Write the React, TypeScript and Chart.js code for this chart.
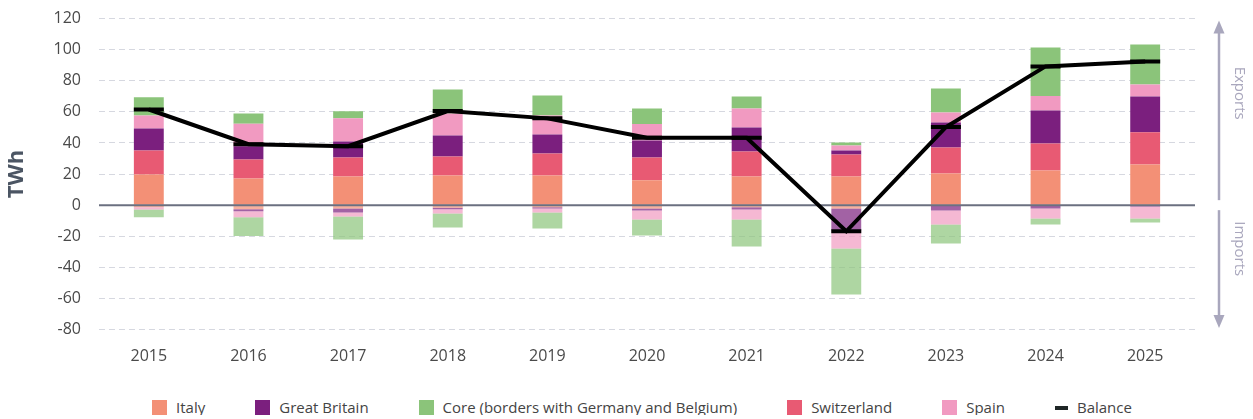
import React, { useEffect, useRef } from "react";
import { Chart, registerables } from "chart.js";

Chart.register(...registerables);

if (typeof document !== "undefined") {
  document.documentElement.style.overflow = "hidden";
  document.body.style.overflow = "hidden";
}

const years = ["2015", "2016", "2017", "2018", "2019", "2020", "2021", "2022", "2023", "2024", "2025"];

// Exports (positive)
const italyExp = [19.7, 17.2, 18.5, 19.1, 19.1, 16.0, 18.5, 18.5, 20.4, 22.3, 26.2];
const switzerlandExp = [15.5, 12.2, 12.2, 12.2, 14.1, 14.7, 16.0, 14.1, 16.7, 17.4, 20.6];
const gbExp = [14.1, 8.5, 10.3, 13.5, 12.3, 10.9, 15.5, 2.6, 16.1, 21.2, 23.1];
const spainExp = [8.3, 14.5, 14.8, 14.2, 12.2, 10.5, 12.2, 3.2, 6.4, 9.2, 7.7];
const coreExp = [11.7, 6.5, 4.5, 15.4, 12.8, 10.1, 7.7, 1.9, 15.4, 31.3, 25.7];

// Imports (negative)
const italyImp = [-1.3, -2.6, -2.1, -1.7, -1.3, -2.1, -1.3, -2.1, -0.3, -0.3, -0.3];
const gbImp = [0, -1.3, -2.6, -0.9, -0.8, -1.3, -1.5, -14.2, -3.1, -1.8, -0.5];
const spainImp = [-1.5, -3.9, -2.6, -2.7, -2.6, -5.8, -6.4, -11.5, -9.0, -6.5, -7.8];
const coreImp = [-4.9, -12.0, -14.8, -9.0, -10.3, -10.3, -17.4, -29.6, -12.2, -3.8, -2.5];

// Net balance
const balance = [61.5, 39.2, 37.9, 60.5, 55.8, 43.3, 43.3, -16.8, 50.2, 89.2, 92.4];

const yTicks = { min: -80, max: 120, step: 20 };

const COLORS = {
  italy: [243, 144, 118],
  gb: [123, 31, 126],
  core: [139, 196, 122],
  switzerland: [232, 90, 115],
  spain: [241, 154, 193],
};
const rgb = (c: number[], a = 1) => `rgba(${c[0]},${c[1]},${c[2]},${a})`;

const legendItems = [
  { label: "Italy", color: rgb(COLORS.italy) },
  { label: "Great Britain", color: rgb(COLORS.gb) },
  { label: "Core (borders with Germany and Belgium)", color: rgb(COLORS.core) },
  { label: "Switzerland", color: rgb(COLORS.switzerland) },
  { label: "Spain", color: rgb(COLORS.spain) },
  { label: "Balance", color: "#1f2626", line: true },
];

const FONT = "'Open Sans', 'Noto Sans', sans-serif";
const SIDE = "#a9a7bd";

const sidePlugin = {
  id: "sideAnnotations",
  beforeDatasetDraw(chart: any, args: any) {
    if (chart.data.datasets[args.index].type !== "line") return;
    const { ctx, chartArea, scales } = chart;
    const y0 = scales.y.getPixelForValue(0);
    ctx.save();
    ctx.strokeStyle = "#6b7080";
    ctx.lineWidth = 2;
    ctx.beginPath();
    ctx.moveTo(chartArea.left, y0);
    ctx.lineTo(chartArea.right, y0);
    ctx.stroke();
    ctx.restore();
  },
  afterDraw(chart: any) {
    const { ctx, chartArea, scales } = chart;
    const y = scales.y;
    const y0 = y.getPixelForValue(0);
    const ax = chartArea.right + 24;
    const tx = chartArea.right + 44;
    ctx.save();
    ctx.strokeStyle = SIDE;
    ctx.fillStyle = SIDE;
    ctx.lineWidth = 2.5;
    const headH = 13;
    const headW = 5.5;
    // exports arrow (up)
    const topTip = chartArea.top + 2;
    ctx.beginPath();
    ctx.moveTo(ax, y0 - 5);
    ctx.lineTo(ax, topTip + headH - 1);
    ctx.stroke();
    ctx.beginPath();
    ctx.moveTo(ax, topTip);
    ctx.lineTo(ax - headW, topTip + headH);
    ctx.lineTo(ax + headW, topTip + headH);
    ctx.closePath();
    ctx.fill();
    // imports arrow (down)
    const botTip = chartArea.bottom - 1.5;
    ctx.beginPath();
    ctx.moveTo(ax, y0 + 5);
    ctx.lineTo(ax, botTip - headH + 1);
    ctx.stroke();
    ctx.beginPath();
    ctx.moveTo(ax, botTip);
    ctx.lineTo(ax - headW, botTip - headH);
    ctx.lineTo(ax + headW, botTip - headH);
    ctx.closePath();
    ctx.fill();
    // texts
    ctx.font = `15px ${FONT}`;
    ctx.textAlign = "center";
    ctx.textBaseline = "middle";
    const drawRot = (text: string, cy: number) => {
      ctx.save();
      ctx.translate(tx, cy);
      ctx.rotate(Math.PI / 2);
      ctx.fillText(text, 0, 0);
      ctx.restore();
    };
    drawRot("Exports", y.getPixelForValue(72));
    drawRot("Imports", y.getPixelForValue(-28));
    ctx.restore();
  },
};

export default function App() {
  const canvasRef = useRef<HTMLCanvasElement | null>(null);

  useEffect(() => {
    if (!canvasRef.current) return;
    const barDs = (label: string, data: number[], c: number[], a = 1) => ({
      type: "bar" as const,
      label,
      data,
      backgroundColor: rgb(c, a),
      borderWidth: 0,
      stack: "flows",
      barPercentage: 0.3,
      categoryPercentage: 1,
    });
    const chart = new Chart(canvasRef.current, {
      type: "bar",
      data: {
        labels: years,
        datasets: [
          barDs("Italy", italyExp, COLORS.italy),
          barDs("Switzerland", switzerlandExp, COLORS.switzerland),
          barDs("Great Britain", gbExp, COLORS.gb),
          barDs("Spain", spainExp, COLORS.spain),
          barDs("Core (borders with Germany and Belgium)", coreExp, COLORS.core),
          barDs("Italy imports", italyImp, COLORS.italy, 0.7),
          barDs("Great Britain imports", gbImp, COLORS.gb, 0.7),
          barDs("Spain imports", spainImp, COLORS.spain, 0.7),
          barDs("Core imports", coreImp, COLORS.core, 0.7),
          {
            type: "line" as const,
            label: "Balance",
            data: balance,
            stack: "balance",
            order: -1,
            borderColor: "#000",
            borderWidth: 4,
            tension: 0,
            pointStyle: "line",
            pointRadius: 15,
            pointHoverRadius: 15,
            pointBorderWidth: 4,
            pointBorderColor: "#000",
            pointBackgroundColor: "#000",
          } as any,
        ],
      },
      options: {
        animation: false,
        responsive: true,
        maintainAspectRatio: false,
        layout: { autoPadding: false, padding: { top: 10.5, right: 50, bottom: 0, left: 0 } },
        plugins: {
          legend: { display: false },
          tooltip: { enabled: false },
        },
        scales: {
          x: {
            stacked: true,
            grid: { display: false, drawTicks: false },
            border: { display: false },
            ticks: { color: "#4a4a4a", font: { family: FONT, size: 16 }, padding: 17 },
            afterFit: (scale: any) => {
              scale.height = 36.4;
            },
          },
          y: {
            stacked: true,
            min: yTicks.min,
            max: yTicks.max,
            afterFit: (scale: any) => {
              scale.width = 91;
              scale.paddingTop = 0;
              scale.paddingBottom = 0;
            },
            ticks: {
              stepSize: yTicks.step,
              color: "#4a4a4a",
              font: { family: FONT, size: 16 },
              padding: 18,
            },
            grid: {
              drawTicks: false,
              lineWidth: 1,
              color: (c: any) => (c.tick && c.tick.value === 0 ? "rgba(0,0,0,0)" : "#d6d8e0"),
            },
            border: { display: false, dash: [6, 4] },
            title: {
              display: true,
              text: "TWh",
              color: "#4b5563",
              font: { family: FONT, size: 22, weight: "bold", lineHeight: 0.8 },
              padding: 0,
            },
          },
        },
      },
      plugins: [sidePlugin],
    });
    return () => chart.destroy();
  }, []);

  return (
    <div style={{ width: 1237 }}>
      <div style={{ position: "relative", width: 1237, height: 358 }}>
        <canvas ref={canvasRef} />
      </div>
      <div
        style={{
          display: "flex",
          justifyContent: "center",
          alignItems: "center",
          paddingLeft: 31,
          marginTop: 34,
          height: 15,
          fontFamily: FONT,
          fontSize: 15,
          color: "#444",
          whiteSpace: "nowrap",
        }}
      >
        {legendItems.map((it, i) => (
          <div
            key={it.label}
            style={{
              display: "flex",
              alignItems: "center",
              marginRight: i === legendItems.length - 1 ? 0 : 50,
            }}
          >
            {it.line ? (
              <span style={{ display: "inline-block", width: 13, height: 4, background: it.color }} />
            ) : (
              <span style={{ display: "inline-block", width: 15, height: 15, background: it.color }} />
            )}
            <span style={{ marginLeft: 9, lineHeight: "15px" }}>{it.label}</span>
          </div>
        ))}
      </div>
    </div>
  );
}
